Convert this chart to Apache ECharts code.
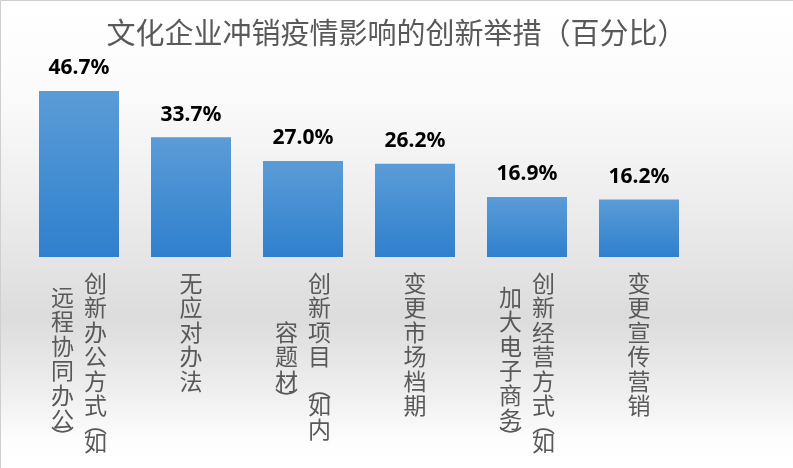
<!DOCTYPE html>
<html><head><meta charset="utf-8">
<script src="https://cdn.jsdelivr.net/npm/echarts@6/dist/echarts.min.js"></script>
<style>html,body{margin:0;padding:0;background:#fff}#c{width:793px;height:468px}</style>
</head><body><div id="c"></div>
<script>
// ---- data ----
const chartTitle = '文化企业冲销疫情影响的创新举措（百分比）';
const categories = ['创新办公方式(如远程协同办公)', '无应对办法', '创新项目（如内容题材）', '变更市场档期', '创新经营方式(如加大电子商务)', '变更宣传营销'];
const values = [46.7, 33.7, 27.0, 26.2, 16.9, 16.2];
// number of characters in the first (right-hand) vertical column of each label
const firstColumnLength = [8, 5, 7, 6, 8, 6];

// ---- layout ----
const PITCH = 24.4;
const HALF = PITCH / 2;
const secondColumnTop = [14, 0, 49, 0, 14, 0];
const GAP = 33;

function splitColumns(i) {
  const s = Array.from(categories[i]);
  const n = firstColumnLength[i];
  return [s.slice(0, n), s.slice(n)];
}
function tokens(ch) {
  if (ch === '(') return ['{ph|︵}'];
  if (ch === ')') return ['{ph|︶}'];
  if (ch === '（') return [null, '{ph|︵}'];
  if (ch === '）') return ['{ph|︶}', null];
  return ['{c|' + ch + '}'];
}
function buildColumn(chars, side, twoCols, topIdx) {
  const lines = [];
  if (topIdx !== null) lines.push('{s' + topIdx + '| }');
  chars.forEach(ch => {
    tokens(ch).forEach(t => {
      if (t === null) { lines.push('{e| }'); return; }
      if (!twoCols) lines.push(t);
      else if (side === 'right') lines.push('{g| }' + t);
      else lines.push(t + '{g| }');
    });
  });
  return lines.join('\n');
}

const rich = {
  c: { fontSize: 23, lineHeight: PITCH, width: 24, align: 'center', color: '#595959', fontFamily: 'Noto Sans CJK SC' },
  ph: { fontSize: 23, lineHeight: HALF, width: 24, align: 'center', color: '#595959', fontFamily: 'Noto Sans CJK SC' },
  e: { fontSize: 1, lineHeight: HALF },
  g: { fontSize: 1, width: GAP, lineHeight: 1 }
};
secondColumnTop.forEach((v, i) => { rich['s' + i] = { fontSize: 1, lineHeight: Math.max(v, 0.01) }; });

const baseLabel = {
  interval: 0,
  hideOverlap: false,
  margin: 14,
  color: '#595959',
  fontSize: 23,
  fontFamily: 'Noto Sans CJK SC',
  rich: rich
};

const chart = echarts.init(document.getElementById('c'), null, { renderer: 'canvas' });
chart.setOption({
  animation: false,
  backgroundColor: new echarts.graphic.LinearGradient(0, 0, 0, 1, [
    { offset: 0, color: '#ffffff' },
    { offset: 0.2, color: '#fbfbfb' },
    { offset: 0.45, color: '#ececec' },
    { offset: 0.68, color: '#dcdcdc' },
    { offset: 0.84, color: '#efefef' },
    { offset: 0.94, color: '#fdfdfd' },
    { offset: 1, color: '#ffffff' }
  ]),
  title: {
    text: chartTitle,
    left: 'center',
    top: 13,
    textStyle: { fontSize: 29, fontWeight: 'normal', color: '#595959', fontFamily: 'Noto Sans CJK SC' }
  },
  grid: { left: 23, right: 98, top: 79.25, bottom: 211, containLabel: false, outerBoundsMode: 'none' },
  xAxis: [
    {
      type: 'category', data: categories, position: 'bottom',
      axisLine: { show: false }, axisTick: { show: false },
      axisLabel: Object.assign({}, baseLabel, {
        formatter: (v, i) => {
          const cols = splitColumns(i);
          return buildColumn(cols[0], 'right', cols[1].length > 0, null);
        }
      })
    },
    {
      type: 'category', data: categories, position: 'bottom',
      axisLine: { show: false }, axisTick: { show: false },
      axisLabel: Object.assign({}, baseLabel, {
        formatter: (v, i) => {
          const cols = splitColumns(i);
          if (!cols[1].length) return '';
          return buildColumn(cols[1], 'left', true, i);
        }
      })
    }
  ],
  yAxis: { type: 'value', min: 0, max: 50, show: false },
  graphic: [{
    type: 'rect', silent: true, z: 100,
    shape: { x: 0.5, y: 0.5, width: 900, height: 900 },
    style: { fill: 'none', stroke: '#cfcfcf', lineWidth: 1 }
  }],
  series: [{
    type: 'bar',
    data: values,
    xAxisIndex: 0,
    barWidth: 80,
    itemStyle: {
      color: new echarts.graphic.LinearGradient(0, 0, 0, 1, [
        { offset: 0, color: '#5b9cd7' },
        { offset: 1, color: '#2f80ce' }
      ])
    },
    label: {
      show: true,
      position: 'top',
      distance: 12,
      formatter: p => p.value.toFixed(1) + '%',
      fontSize: 21,
      fontWeight: 'bold',
      color: '#000000',
      fontFamily: 'Noto Sans'
    }
  }]
});
</script>
</body></html>
